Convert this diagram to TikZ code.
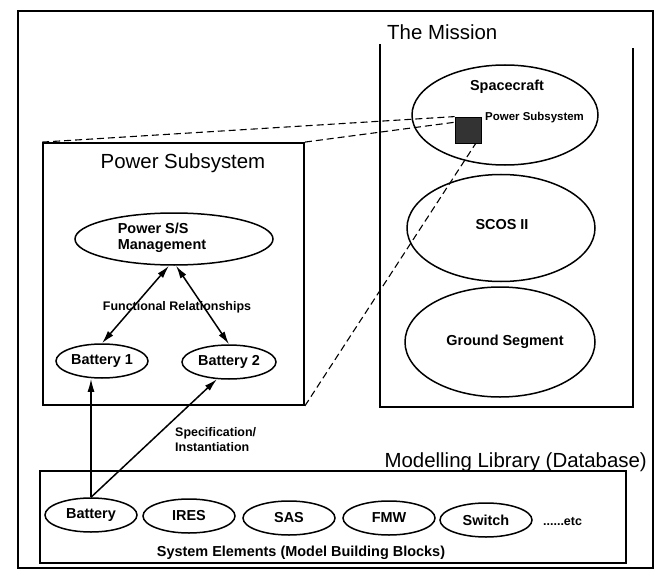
\documentclass[tikz,border=0pt]{standalone}
\usepackage{fontspec}
\setmainfont{Liberation Sans}
\usetikzlibrary{arrows.meta,shapes.geometric}
\tikzset{
  frame/.style={draw, line width=1.8bp, inner sep=0},
  oval/.style={ellipse, draw, line width=1.5bp, inner sep=0},
  lbl/.style={font=\bfseries\fontsize{14.5}{16.5}\selectfont, inner sep=0},
  smalllbl/.style={font=\bfseries\fontsize{12.5}{15}\selectfont, inner sep=0},
  title/.style={font=\fontsize{20.5}{24}\selectfont, inner sep=0},
  arr/.style={line width=1.5bp, -{Latex[length=13bp,width=7bp]}},
  dblarr/.style={line width=1.5bp, {Latex[length=13bp,width=7bp]}-{Latex[length=13bp,width=7bp]}},
  dashlink/.style={line width=1.1bp, dash pattern=on 7bp off 4bp},
}
\begin{document}
\begin{tikzpicture}[x=1bp, y=-1bp]
\useasboundingbox (0,0) rectangle (663,578);
% outer frame
\node (outer) [frame, line width=2.4bp, minimum width=635bp, minimum height=557bp] at (335.5,289.5) {};
% mission box (open top)
\coordinate (mtl) at (380,44);
\coordinate (mbl) at (380,407);
\coordinate (mbr) at (633,407);
\coordinate (mtr) at (633,48);
\draw[line width=1.8bp] (mtl) -- (mbl) -- (mbr) -- (mtr);
\node (mtitle) [title, anchor=west] at (387,32) {The Mission};
% spacecraft etc.
\node (sc) [oval, minimum width=186bp, minimum height=100bp] at (505,115) {};
\node (sctext) [lbl] at (507,87) {Spacecraft};
\node (sq) [draw, line width=0.8bp, fill=black!80, minimum width=26bp, minimum height=26bp, inner sep=0] at (468,130) {};
\node (sqtext) [smalllbl, font=\bfseries\fontsize{11.5}{14}\selectfont, anchor=west] at (485,118) {Power Subsystem};
\node (scos) [oval, minimum width=188bp, minimum height=107bp] at (501,228) {};
\node (scostext) [lbl] at (502,225) {SCOS II};
\node (gs) [oval, minimum width=190bp, minimum height=110bp] at (500,342) {};
\node (gstext) [lbl] at (505,342) {Ground Segment};
% power subsystem box
\node (pbox) [frame, minimum width=261bp, minimum height=262bp] at (173.5,274) {};
\node (ptitle) [title] at (183,163) {Power Subsystem};
\node (psm) [oval, minimum width=198bp, minimum height=52bp] at (174,239) {};
\node (psmtext) [lbl, align=left] at (162,238) {Power S/S\\Management};
\node (b1) [oval, lbl, minimum width=92bp, minimum height=34bp] at (102,361) {Battery 1};
\node (b2) [oval, lbl, minimum width=94bp, minimum height=34bp] at (229,362) {Battery 2};
\draw[dblarr] ([xshift=-5bp]psm.south) -- (b1.north);
\draw[dblarr] ([xshift=2bp]psm.south) -- (b2.north);
\node (func) [smalllbl] at (177,307) {Functional Relationships};
% dashed links
\draw[dashlink] (pbox.north west) -- (sq.north west);
\draw[dashlink] (pbox.north east) -- (sq.150);
\draw[dashlink] (pbox.south east) -- (sq.-60);
% library
\node (libtitle) [title, anchor=east] at (647,462) {Modelling Library (Database)};
\node (lib) [frame, minimum width=586bp, minimum height=92bp] at (333,517) {};
\node (lbat) [oval, lbl, minimum width=92bp, minimum height=34bp] at (91,515) {Battery};
\node (lires) [oval, lbl, minimum width=92bp, minimum height=34bp] at (189,516) {IRES};
\node (lsas) [oval, lbl, minimum width=92bp, minimum height=34bp] at (289,518) {SAS};
\node (lfmw) [oval, lbl, minimum width=92bp, minimum height=34bp] at (389,518) {FMW};
\node (lsw) [oval, lbl, minimum width=92bp, minimum height=34bp] at (486,520) {Switch};
\node (letc) [smalllbl, anchor=west] at (543,521) {......etc};
\node (sysel) [lbl] at (301,553) {System Elements (Model Building Blocks)};
\draw[arr] (lbat.north) -- (lbat.north |- b1.south);
\draw[arr] (lbat.north) -- (b2.-125);
\node (spec) [smalllbl, align=left, anchor=west] at (175,440) {Specification/\\Instantiation};
\end{tikzpicture}
\end{document}
